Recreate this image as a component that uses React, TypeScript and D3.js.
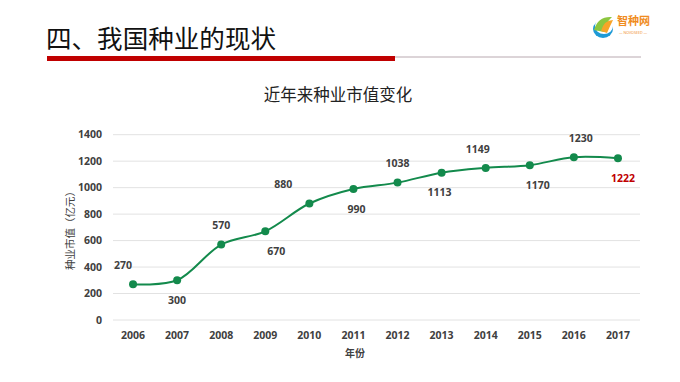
import React from "react";
import * as d3 from "d3";

const years = ["2006","2007","2008","2009","2010","2011","2012","2013","2014","2015","2016","2017"];
const values = [270, 300, 570, 670, 880, 990, 1038, 1113, 1149, 1170, 1230, 1222];
const yTicks = [0, 200, 400, 600, 800, 1000, 1200, 1400];
const labelSide = ["above","below","above","below","above","below","above","below","above","below","above","below"];
const labelShiftX = [-10, 0, 0, 11, -26, 3, 0, -2, -8, 8, 7, 5];

const W = 680, H = 382;
const left = 111, right = 640, top = 134.7, bottom = 320;
const GREEN = "#138a4c";
const FONT = "'Noto Sans CJK SC', 'Open Sans', sans-serif";
const NUMFONT = "'Open Sans', 'Noto Sans', sans-serif";

export default function App() {
  const x = d3.scalePoint<string>().domain(years).range([left, right]).padding(0.5);
  const y = d3.scaleLinear().domain([0, 1400]).range([bottom, top]);
  const line = d3.line<number>()
    .x((_, i) => x(years[i]) as number)
    .y(d => y(d))
    .curve(d3.curveCatmullRom.alpha(0.5));
  return (
    <svg width={W} height={H} style={{ position: "absolute", left: 0, top: 0, background: "#fff" }}>
      <rect width={W} height={H} fill="#fff" />
      {/* header */}
      <text x={46} y={48} fontFamily={FONT} fontSize={25.5} fill="#111" textLength={230} lengthAdjust="spacingAndGlyphs">四、我国种业的现状</text>
      <line x1={395} x2={641} y1={57} y2={57} stroke="#b9a9b0" strokeWidth={1} />
      <rect x={47} y={56} width={348} height={5} fill="#c00000" />
      {/* logo */}
      <g>
        <ellipse cx={603} cy={29} rx={10} ry={9} fill="#1e9ad6" />
        <ellipse cx={604} cy={26} rx={9} ry={8} fill="#fff" />
        <path d="M594,30 Q598,16 612,17 Q606,22 604,32 Z" fill="#8cc63f" />
        <path d="M601,31 Q604,20 613,20 Q610,26 607,33 Z" fill="#f7a428" />
        <text x={617} y={25} fontFamily={FONT} fontWeight={700} fontSize={11} fill="#f08c1e">智种网</text>
        <text x={633} y={34} fontFamily={NUMFONT} fontSize={3.6} fill="#f08c1e" textAnchor="middle">— NOVOSEED —</text>
      </g>
      {/* chart title */}
      <text x={338} y={101} textAnchor="middle" fontFamily={FONT} fontSize={16.5} fill="#222">近年来种业市值变化</text>
      {/* grid + y ticks */}
      {yTicks.map(t => (
        <g key={t}>
          <line x1={left + 2} x2={right} y1={y(t)} y2={y(t)} stroke="#e2e2e2" strokeWidth={1} />
          <text x={102} y={y(t)} dy="0.35em" textAnchor="end" fontFamily={NUMFONT} fontWeight={700} fontSize={10.5} fill="#404040">{t}</text>
        </g>
      ))}
      {/* x labels */}
      {years.map(yr => (
        <text key={yr} x={x(yr) as number} y={339} textAnchor="middle" fontFamily={NUMFONT} fontWeight={700} fontSize={10.5} fill="#404040">{yr}</text>
      ))}
      <text x={355} y={357} textAnchor="middle" fontFamily={FONT} fontWeight={700} fontSize={10} fill="#404040">年份</text>
      <text transform={`translate(74,228) rotate(-90)`} textAnchor="middle" fontFamily={FONT} fontSize={10.5} fill="#404040">种业市值（亿元）</text>
      {/* line */}
      <path d={line(values) || ""} fill="none" stroke={GREEN} strokeWidth={2} />
      {values.map((v, i) => (
        <circle key={i} cx={x(years[i]) as number} cy={y(v)} r={4} fill={GREEN} />
      ))}
      {values.map((v, i) => {
        const px = (x(years[i]) as number) + labelShiftX[i];
        const py = y(v) + (labelSide[i] === "above" ? -19 : 20);
        const last = i === values.length - 1;
        return (
          <text key={"l" + i} x={px} y={py} dy="0.35em" textAnchor="middle" fontFamily={NUMFONT} fontWeight={700} fontSize={10.5} fill={last ? "#c00000" : "#404040"}>{v}</text>
        );
      })}
    </svg>
  );
}
